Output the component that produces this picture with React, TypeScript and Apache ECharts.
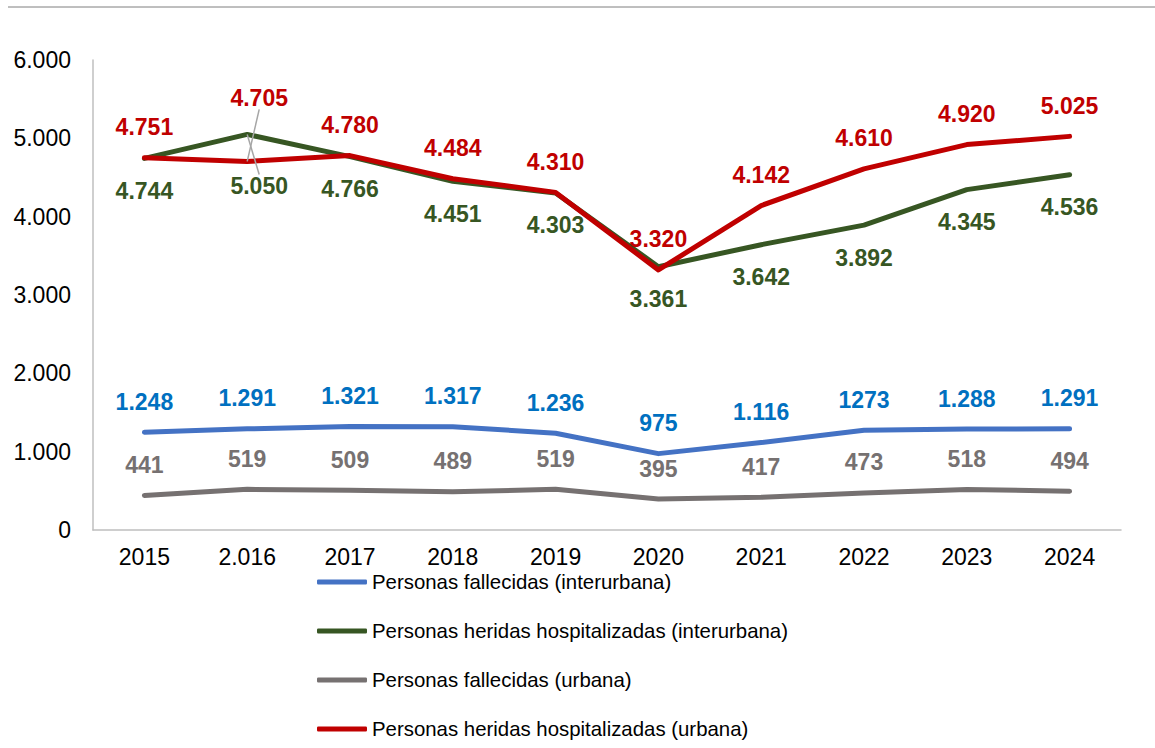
import React, { useEffect, useRef } from "react";
import * as echarts from "echarts";

const categories = ["2015", "2.016", "2017", "2018", "2019", "2020", "2021", "2022", "2023", "2024"];
const fallecidosInterurbana = [1248, 1291, 1321, 1317, 1236, 975, 1116, 1273, 1288, 1291];
const fallecidosInterurbanaLabels = ["1.248", "1.291", "1.321", "1.317", "1.236", "975", "1.116", "1273", "1.288", "1.291"];
const heridosInterurbana = [4744, 5050, 4766, 4451, 4303, 3361, 3642, 3892, 4345, 4536];
const fallecidosUrbana = [441, 519, 509, 489, 519, 395, 417, 473, 518, 494];
const heridosUrbana = [4751, 4705, 4780, 4484, 4310, 3320, 4142, 4610, 4920, 5025];
const seriesNames = [
  "Personas fallecidas (interurbana)",
  "Personas heridas hospitalizadas (interurbana)",
  "Personas fallecidas (urbana)",
  "Personas heridas hospitalizadas (urbana)",
];
const leaderIndex = 1;

const fmt = (v: number) => {
  const s = String(Math.round(v));
  return s.replace(/\B(?=(\d{3})+(?!\d))/g, ".");
};

const FONT = "'Liberation Sans', Arial, sans-serif";

export default function App() {
  const ref = useRef<HTMLDivElement>(null);
  useEffect(() => {
    if (!ref.current) return;
    const chart = echarts.init(ref.current, null, { renderer: "svg" });
    const labelBase = { show: true, fontFamily: FONT, fontSize: 23, fontWeight: "bold" as const, distance: 19 };
    const lineBase = (color: string) => ({
      type: "line" as const,
      symbol: "circle",
      symbolSize: 0.1,
      showSymbol: true,
      lineStyle: { color, width: 5, cap: "round" as const, join: "round" as const },
      itemStyle: { color },
      emphasis: { disabled: true },
    });
    const withLeader = (arr: number[]) =>
      arr.map((v, i) =>
        i === leaderIndex
          ? { value: v, labelLine: { show: true, lineStyle: { color: "#a6a6a6", width: 1.5 } } }
          : { value: v }
      );
    chart.setOption({
      animation: false,
      textStyle: { fontFamily: FONT },
      graphic: [
        { type: "line", shape: { x1: 8, y1: 7, x2: 1155, y2: 7 }, style: { stroke: "#7f7f7f", lineWidth: 1 } },
      ],
      grid: { left: 93, right: 34, top: 60, bottom: 218, containLabel: false },
      legend: {
        orient: "vertical",
        left: 312,
        top: 567,
        itemWidth: 50,
        itemHeight: 5,
        itemGap: 29,
        icon: "roundRect",
        textStyle: { fontFamily: FONT, fontSize: 20.4, color: "#000", padding: [0, 0, 0, 0] },
        data: seriesNames,
      },
      xAxis: {
        type: "category",
        data: categories,
        boundaryGap: true,
        axisLine: { lineStyle: { color: "#bfbfbf", width: 1.5 } },
        axisTick: { show: false },
        axisLabel: { fontFamily: FONT, fontSize: 23, color: "#000", margin: 15 },
      },
      yAxis: {
        type: "value",
        min: 0,
        max: 6000,
        interval: 1000,
        axisLine: { show: true, lineStyle: { color: "#bfbfbf", width: 1.5 } },
        axisTick: { show: false },
        splitLine: { show: false },
        axisLabel: { fontFamily: FONT, fontSize: 23, color: "#000", margin: 22, formatter: (v: number) => fmt(v) },
      },
      series: [
        {
          ...lineBase("#4472c4"),
          name: seriesNames[0],
          data: fallecidosInterurbana,
          label: {
            ...labelBase,
            position: "top",
            color: "#0070c0",
            formatter: (p: any) => fallecidosInterurbanaLabels[p.dataIndex],
          },
        },
        {
          ...lineBase("#375623"),
          name: seriesNames[1],
          data: withLeader(heridosInterurbana),
          label: { ...labelBase, position: "bottom", color: "#375623", distance: 21, formatter: (p: any) => fmt(p.value) },
          labelLine: { show: false },
          labelLayout: (p: any) => (p.dataIndex === leaderIndex ? { dx: 12, dy: 19 } : {}),
        },
        {
          ...lineBase("#767171"),
          name: seriesNames[2],
          data: fallecidosUrbana,
          label: { ...labelBase, position: "top", color: "#767171", formatter: (p: any) => fmt(p.value) },
        },
        {
          ...lineBase("#c00000"),
          name: seriesNames[3],
          data: withLeader(heridosUrbana),
          label: { ...labelBase, position: "top", color: "#c00000", formatter: (p: any) => fmt(p.value) },
          labelLine: { show: false },
          labelLayout: (p: any) => (p.dataIndex === leaderIndex ? { dx: 12, dy: -33 } : {}),
        },
      ],
    });
    return () => chart.dispose();
  }, []);
  return (
    <div
      ref={ref}
      style={{ position: "fixed", left: 0, top: 0, width: 1155, height: 748, background: "#fff" }}
    />
  );
}
